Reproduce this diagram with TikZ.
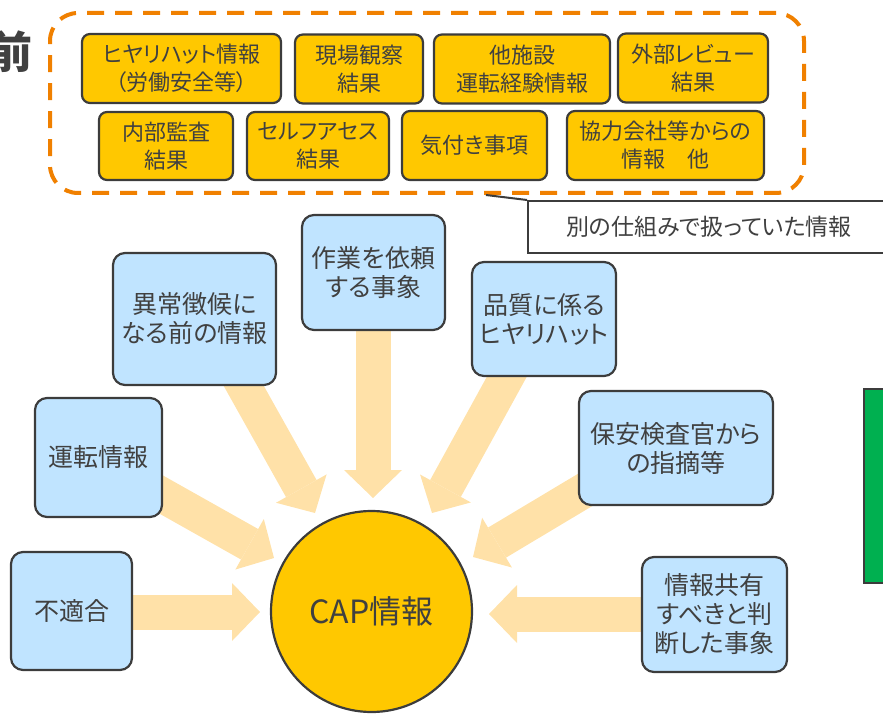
\documentclass[tikz,border=0pt]{standalone}
\usepackage{fontspec}
\setmainfont{Noto Sans CJK JP}[RawFeature=+palt]
\usetikzlibrary{arrows.meta}
\definecolor{dashor}{RGB}{240,128,0}
\definecolor{yel}{RGB}{255,200,0}
\definecolor{lblue}{RGB}{192,228,255}
\definecolor{arr}{RGB}{255,225,168}
\definecolor{grn}{RGB}{0,176,80}
\definecolor{bord}{RGB}{60,60,60}
\definecolor{txt}{RGB}{64,64,64}
\begin{document}
\begin{tikzpicture}[x=1pt,y=-1pt,
  ybox/.style={draw=bord, line width=2.2pt, fill=yel, rounded corners=8pt, inner sep=0pt, align=center, text=txt, font=\fontsize{22}{28}\selectfont},
  bbox/.style={draw=bord, line width=2.2pt, fill=lblue, rounded corners=12pt, inner sep=0pt, align=center, text=txt, font=\fontsize{25}{29}\selectfont},
  fat/.style={line width=35pt, draw=arr, -{Triangle[width=58pt,length=28pt,line width=0pt]}},
  grpbox/.style={draw=dashor, line width=4pt, dash pattern=on 17pt off 11pt, rounded corners=28pt, inner sep=0pt}]
\useasboundingbox (0,0) rectangle (883,714);
\clip (0,0) rectangle (883,714);

% arrow coordinates
\coordinate (sA) at (218,340); \coordinate (tA) at (315,513);
\coordinate (sB) at (373,300); \coordinate (tB) at (373,498);
\coordinate (sC) at (527,340); \coordinate (tC) at (432,513);
\coordinate (sD) at (610,475); \coordinate (tD) at (473,557);
\coordinate (sE) at (680,614); \coordinate (tE) at (489,614);
\coordinate (sF) at (130,477); \coordinate (tF) at (274,558);
\coordinate (sG) at (100,612); \coordinate (tG) at (260,612);
\foreach \k in {A,B,C,D,E,F,G} {\draw[fat] (s\k) -- (t\k);}

% title char (cut at the left edge, as in the reference)
\node[text=txt, font=\fontsize{44}{44}\selectfont\bfseries, inner sep=0pt] (mae) at (11,52) {前};

% dashed group
\node[grpbox, minimum width=754pt, minimum height=180pt] (grp) at (427,103) {};

% yellow boxes
\node[ybox, minimum width=199pt, minimum height=69pt] (y1) at (181.5,68.5) {ヒヤリハット情報\\（労働安全等）};
\node[ybox, minimum width=128pt, minimum height=69pt] (y2) at (359,69) {現場観察\\結果};
\node[ybox, minimum width=176pt, minimum height=69pt] (y3) at (522,69) {他施設\\運転経験情報};
\node[ybox, minimum width=150pt, minimum height=69pt] (y4) at (693,68) {外部レビュー\\結果};
\node[ybox, minimum width=134pt, minimum height=68pt] (y5) at (166,146) {内部監査\\結果};
\node[ybox, minimum width=142pt, minimum height=68pt] (y6) at (318,146) {セルフアセス\\結果};
\node[ybox, minimum width=145pt, minimum height=69pt] (y7) at (474.5,145.5) {気付き事項};
\node[ybox, minimum width=197pt, minimum height=69pt] (y8) at (665.5,145.5) {協力会社等からの\\情報　他};

% callout
\node[draw=bord, line width=2pt, fill=white, minimum width=362pt, minimum height=52pt, inner sep=0pt, text=txt, font=\fontsize{23}{27}\selectfont] (note) at (709,227) {別の仕組みで扱っていた情報};
\coordinate (ptr) at (486,195);
\draw[bord, line width=2pt] (ptr) -- (note.north west);

% blue boxes
\node[bbox, minimum width=163pt, minimum height=132pt] (A) at (194.5,319) {異常徴候に\\なる前の情報};
\node[bbox, minimum width=143pt, minimum height=115pt] (B) at (373.5,272.5) {作業を依頼\\する事象};
\node[bbox, minimum width=144pt, minimum height=114pt] (C) at (544,319) {品質に係る\\ヒヤリハット};
\node[bbox, minimum width=194pt, minimum height=114pt] (D) at (676,448) {保安検査官から\\の指摘等};
\node[bbox, minimum width=145pt, minimum height=115pt] (E) at (714.5,614.5) {情報共有\\すべきと判\\断した事象};
\node[bbox, minimum width=127pt, minimum height=119pt] (F) at (98.5,457.5) {運転情報};
\node[bbox, minimum width=121pt, minimum height=118pt] (G) at (71.5,611) {不適合};

% center circle
\node[circle, draw=bord, line width=2.2pt, fill=yel, minimum size=201pt, inner sep=0pt, text=txt, font=\fontsize{32}{36}\selectfont] (cap) at (371.5,611.5) {CAP情報};

% green bar
\node[draw=bord, line width=2.2pt, fill=grn, minimum width=40pt, minimum height=194pt, inner sep=0pt, anchor=north west] (gr) at (863,388) {};
\end{tikzpicture}
\end{document}
